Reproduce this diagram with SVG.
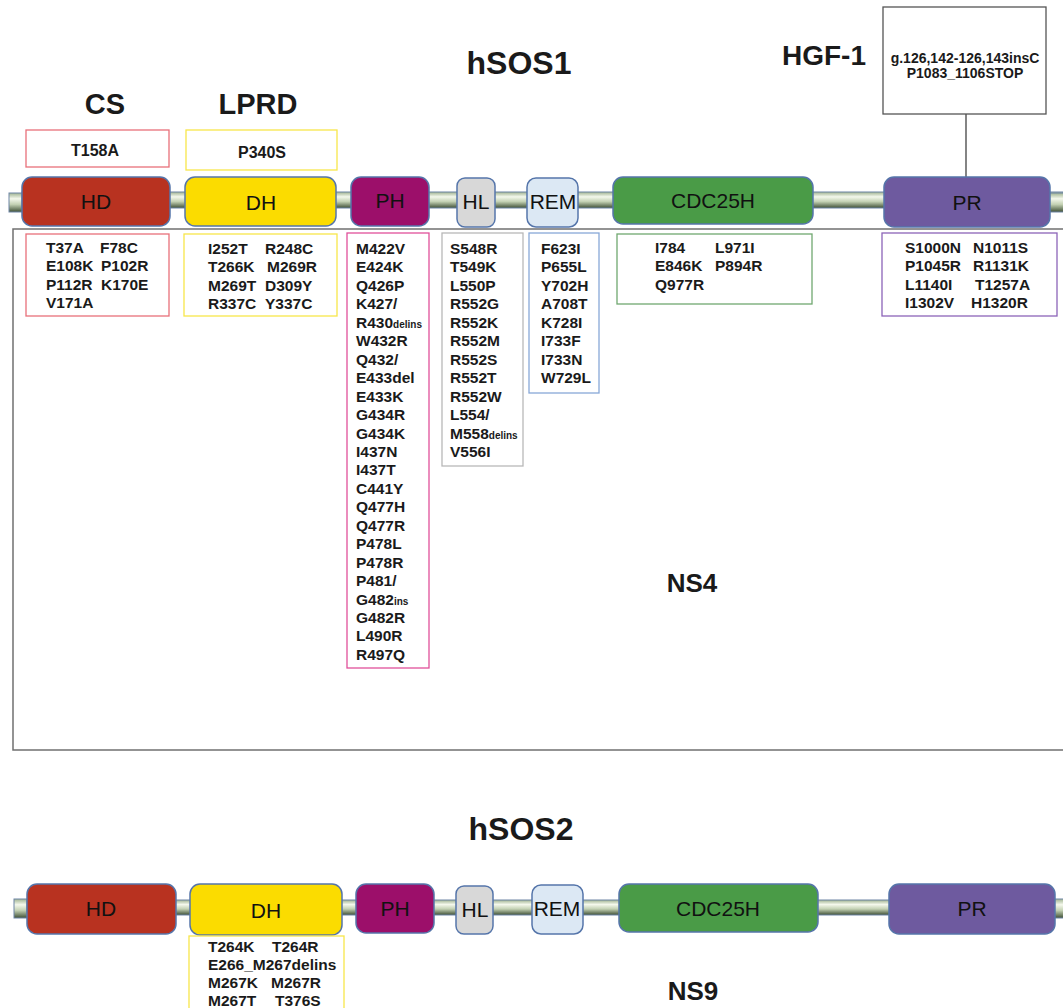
<svg xmlns="http://www.w3.org/2000/svg" width="1063" height="1008" viewBox="0 0 1063 1008">
<defs>
<linearGradient id="tube" x1="0" y1="0" x2="0" y2="1">
<stop offset="0" stop-color="#9fb290"/>
<stop offset="0.3" stop-color="#f4f8ec"/>
<stop offset="0.6" stop-color="#c3d1b3"/>
<stop offset="1" stop-color="#3f5036"/>
</linearGradient>
<style>
.tube{fill:url(#tube);stroke:#6f86a6;stroke-width:1}
.dom{stroke:#5575aa;stroke-width:1.5}
.dl{font-family:"Liberation Sans",Arial,sans-serif;font-size:21px;fill:#111;text-anchor:middle}
.t{font-family:"Liberation Sans",Arial,sans-serif;font-weight:bold;font-size:15.5px;fill:#1a1a1a}
.s{font-size:10px}
.h{font-family:"Liberation Sans",Arial,sans-serif;font-weight:bold;fill:#1a1a1a;text-anchor:middle}
.mb{fill:#fff;stroke-width:1.3}
</style>
</defs>
<rect width="1063" height="1008" fill="#fff"/>

<!-- titles -->
<text class="h" x="519" y="74" font-size="32">hSOS1</text>
<text class="h" x="824" y="65" font-size="28">HGF-1</text>
<text class="h" x="105" y="114" font-size="29">CS</text>
<text class="h" x="258" y="114" font-size="29">LPRD</text>
<text class="h" x="692" y="592" font-size="26">NS4</text>
<text class="h" x="521" y="840" font-size="32">hSOS2</text>
<text class="h" x="693" y="1000" font-size="26">NS9</text>

<!-- NS4 outer frame -->
<path d="M1065,229 H13 V750 H1065" fill="none" stroke="#707070" stroke-width="1.5"/>

<!-- connectors -->
<g id="connectors">
<rect class="tube" x="9" y="193" width="14" height="19"/>
<rect class="tube" x="22" y="192" width="1041" height="16"/>
<rect class="tube" x="1049" y="193" width="16" height="19"/>
<line x1="966" y1="114" x2="966" y2="177" stroke="#333" stroke-width="1.2"/>
<rect class="tube" x="14" y="899" width="14" height="19"/>
<rect class="tube" x="27" y="900" width="1036" height="15"/>
<rect class="tube" x="1054" y="899" width="12" height="19"/>
</g>

<!-- hSOS1 domains -->
<g id="hd1"><rect class="dom" x="22" y="177" width="148" height="49" rx="10" fill="#b83220"/><text class="dl" x="96" y="209">HD</text></g>
<g id="dh1"><rect class="dom" x="185" y="177" width="151" height="49" rx="10" fill="#fbdc00"/><text class="dl" x="261" y="210">DH</text></g>
<g id="ph1"><rect class="dom" x="351" y="177" width="78" height="49" rx="10" fill="#9c0f6a"/><text class="dl" x="390" y="208">PH</text></g>
<g id="hl1"><rect class="dom" x="457" y="178" width="38" height="49" rx="8" fill="#d8d8d8"/><text class="dl" x="476" y="209">HL</text></g>
<g id="rem1"><rect class="dom" x="527" y="178" width="51" height="49" rx="9" fill="#dce8f4"/><text class="dl" x="553" y="209">REM</text></g>
<g id="cdc1"><rect class="dom" x="613" y="177" width="200" height="47" rx="10" fill="#4a9b47"/><text class="dl" x="713" y="208">CDC25H</text></g>
<g id="pr1"><rect class="dom" x="884" y="177" width="166" height="50" rx="10" fill="#6e5a9f"/><text class="dl" x="967" y="210">PR</text></g>

<!-- HGF-1 box -->
<g id="hgf">
<rect class="mb" x="883" y="7" width="163" height="107" stroke="#555"/>
<text class="h" x="965" y="63" font-size="14">g.126,142-126,143insC</text>
<text class="h" x="965" y="78" font-size="14">P1083_1106STOP</text>
</g>

<!-- CS / LPRD boxes -->
<g id="cs"><rect class="mb" x="26" y="130" width="143" height="37" stroke="#e8707a"/><text class="h" x="95" y="156" font-size="16">T158A</text></g>
<g id="lprd"><rect class="mb" x="186" y="130" width="151" height="40" stroke="#f7e64a"/><text class="h" x="262" y="158" font-size="16">P340S</text></g>

<!-- HD mutations -->
<g id="hdm">
<rect class="mb" x="26" y="234" width="143" height="82" stroke="#e8707a"/>
<text class="t"><tspan x="46" y="253">T37A</tspan><tspan x="46" y="271.4">E108K</tspan><tspan x="46" y="289.8">P112R</tspan><tspan x="46" y="308.2">V171A</tspan></text>
<text class="t"><tspan x="100" y="253">F78C</tspan><tspan x="101" y="271.4">P102R</tspan><tspan x="101" y="289.8">K170E</tspan></text>
</g>

<!-- DH mutations -->
<g id="dhm">
<rect class="mb" x="184" y="234" width="153" height="82" stroke="#f7e64a"/>
<text class="t"><tspan x="208" y="254">I252T</tspan><tspan x="208" y="272.4">T266K</tspan><tspan x="208" y="290.8">M269T</tspan><tspan x="208" y="309.2">R337C</tspan></text>
<text class="t"><tspan x="265" y="254">R248C</tspan><tspan x="267" y="272.4">M269R</tspan><tspan x="265" y="290.8">D309Y</tspan><tspan x="265" y="309.2">Y337C</tspan></text>
</g>

<!-- PH mutations -->
<g id="phm">
<rect class="mb" x="347" y="233" width="82" height="435" stroke="#e0509a"/>
<text class="t">
<tspan x="356" y="254">M422V</tspan>
<tspan x="356" y="272.45">E424K</tspan>
<tspan x="356" y="290.9">Q426P</tspan>
<tspan x="356" y="309.35">K427/</tspan>
<tspan x="356" y="327.8">R430<tspan class="s">delins</tspan></tspan>
<tspan x="356" y="346.25">W432R</tspan>
<tspan x="356" y="364.7">Q432/</tspan>
<tspan x="356" y="383.15">E433del</tspan>
<tspan x="356" y="401.6">E433K</tspan>
<tspan x="356" y="420.05">G434R</tspan>
<tspan x="356" y="438.5">G434K</tspan>
<tspan x="356" y="456.95">I437N</tspan>
<tspan x="356" y="475.4">I437T</tspan>
<tspan x="356" y="493.85">C441Y</tspan>
<tspan x="356" y="512.3">Q477H</tspan>
<tspan x="356" y="530.75">Q477R</tspan>
<tspan x="356" y="549.2">P478L</tspan>
<tspan x="356" y="567.65">P478R</tspan>
<tspan x="356" y="586.1">P481/</tspan>
<tspan x="356" y="604.55">G482<tspan class="s">ins</tspan></tspan>
<tspan x="356" y="623">G482R</tspan>
<tspan x="356" y="641.45">L490R</tspan>
<tspan x="356" y="659.9">R497Q</tspan>
</text>
</g>

<!-- HL mutations -->
<g id="hlm">
<rect class="mb" x="442" y="233" width="81" height="233" stroke="#b8b8b8"/>
<text class="t">
<tspan x="450" y="254">S548R</tspan>
<tspan x="450" y="272.45">T549K</tspan>
<tspan x="450" y="290.9">L550P</tspan>
<tspan x="450" y="309.35">R552G</tspan>
<tspan x="450" y="327.8">R552K</tspan>
<tspan x="450" y="346.25">R552M</tspan>
<tspan x="450" y="364.7">R552S</tspan>
<tspan x="450" y="383.15">R552T</tspan>
<tspan x="450" y="401.6">R552W</tspan>
<tspan x="450" y="420.05">L554/</tspan>
<tspan x="450" y="438.5">M558<tspan class="s">delins</tspan></tspan>
<tspan x="450" y="456.95">V556I</tspan>
</text>
</g>

<!-- REM mutations -->
<g id="remm">
<rect class="mb" x="529" y="233" width="70" height="160" stroke="#88a8d8"/>
<text class="t">
<tspan x="541" y="254">F623I</tspan>
<tspan x="541" y="272.45">P655L</tspan>
<tspan x="541" y="290.9">Y702H</tspan>
<tspan x="541" y="309.35">A708T</tspan>
<tspan x="541" y="327.8">K728I</tspan>
<tspan x="541" y="346.25">I733F</tspan>
<tspan x="541" y="364.7">I733N</tspan>
<tspan x="541" y="383.15">W729L</tspan>
</text>
</g>

<!-- CDC25H mutations -->
<g id="cdcm">
<rect class="mb" x="617" y="234" width="195" height="70" stroke="#70a870"/>
<text class="t"><tspan x="655" y="253">I784</tspan><tspan x="655" y="271.4">E846K</tspan><tspan x="655" y="289.8">Q977R</tspan></text>
<text class="t"><tspan x="715" y="253">L971I</tspan><tspan x="715" y="271.4">P894R</tspan></text>
</g>

<!-- PR mutations -->
<g id="prm">
<rect class="mb" x="882" y="233" width="175" height="83" stroke="#8c64b8"/>
<text class="t"><tspan x="905" y="253">S1000N</tspan><tspan x="905" y="271.4">P1045R</tspan><tspan x="905" y="289.8">L1140I</tspan><tspan x="905" y="308.2">I1302V</tspan></text>
<text class="t"><tspan x="973" y="253">N1011S</tspan><tspan x="973" y="271.4">R1131K</tspan><tspan x="975" y="289.8">T1257A</tspan><tspan x="971" y="308.2">H1320R</tspan></text>
</g>

<!-- hSOS2 domains -->
<g id="hd2"><rect class="dom" x="27" y="884" width="149" height="50" rx="10" fill="#b83220"/><text class="dl" x="101" y="916">HD</text></g>
<g id="dh2"><rect class="dom" x="190" y="884" width="152" height="51" rx="10" fill="#fbdc00"/><text class="dl" x="266" y="918">DH</text></g>
<g id="ph2"><rect class="dom" x="356" y="884" width="78" height="49" rx="10" fill="#9c0f6a"/><text class="dl" x="395" y="916">PH</text></g>
<g id="hl2"><rect class="dom" x="456" y="886" width="37" height="48" rx="8" fill="#d8d8d8"/><text class="dl" x="475" y="917">HL</text></g>
<g id="rem2"><rect class="dom" x="532" y="885" width="51" height="49" rx="9" fill="#dce8f4"/><text class="dl" x="557" y="916">REM</text></g>
<g id="cdc2"><rect class="dom" x="619" y="884" width="199" height="48" rx="10" fill="#4a9b47"/><text class="dl" x="718" y="916">CDC25H</text></g>
<g id="pr2"><rect class="dom" x="889" y="884" width="166" height="50" rx="10" fill="#6e5a9f"/><text class="dl" x="972" y="916">PR</text></g>

<!-- hSOS2 DH mutations -->
<g id="dhm2">
<rect class="mb" x="189" y="936" width="155" height="80" stroke="#f7e64a"/>
<text class="t" font-size="16"><tspan x="208" y="952">T264K</tspan><tspan x="208" y="970">E266_M267delins</tspan><tspan x="208" y="988">M267K</tspan><tspan x="208" y="1006">M267T</tspan></text>
<text class="t" font-size="16"><tspan x="272" y="952">T264R</tspan><tspan x="271" y="988">M267R</tspan><tspan x="275" y="1006">T376S</tspan></text>
</g>
</svg>
